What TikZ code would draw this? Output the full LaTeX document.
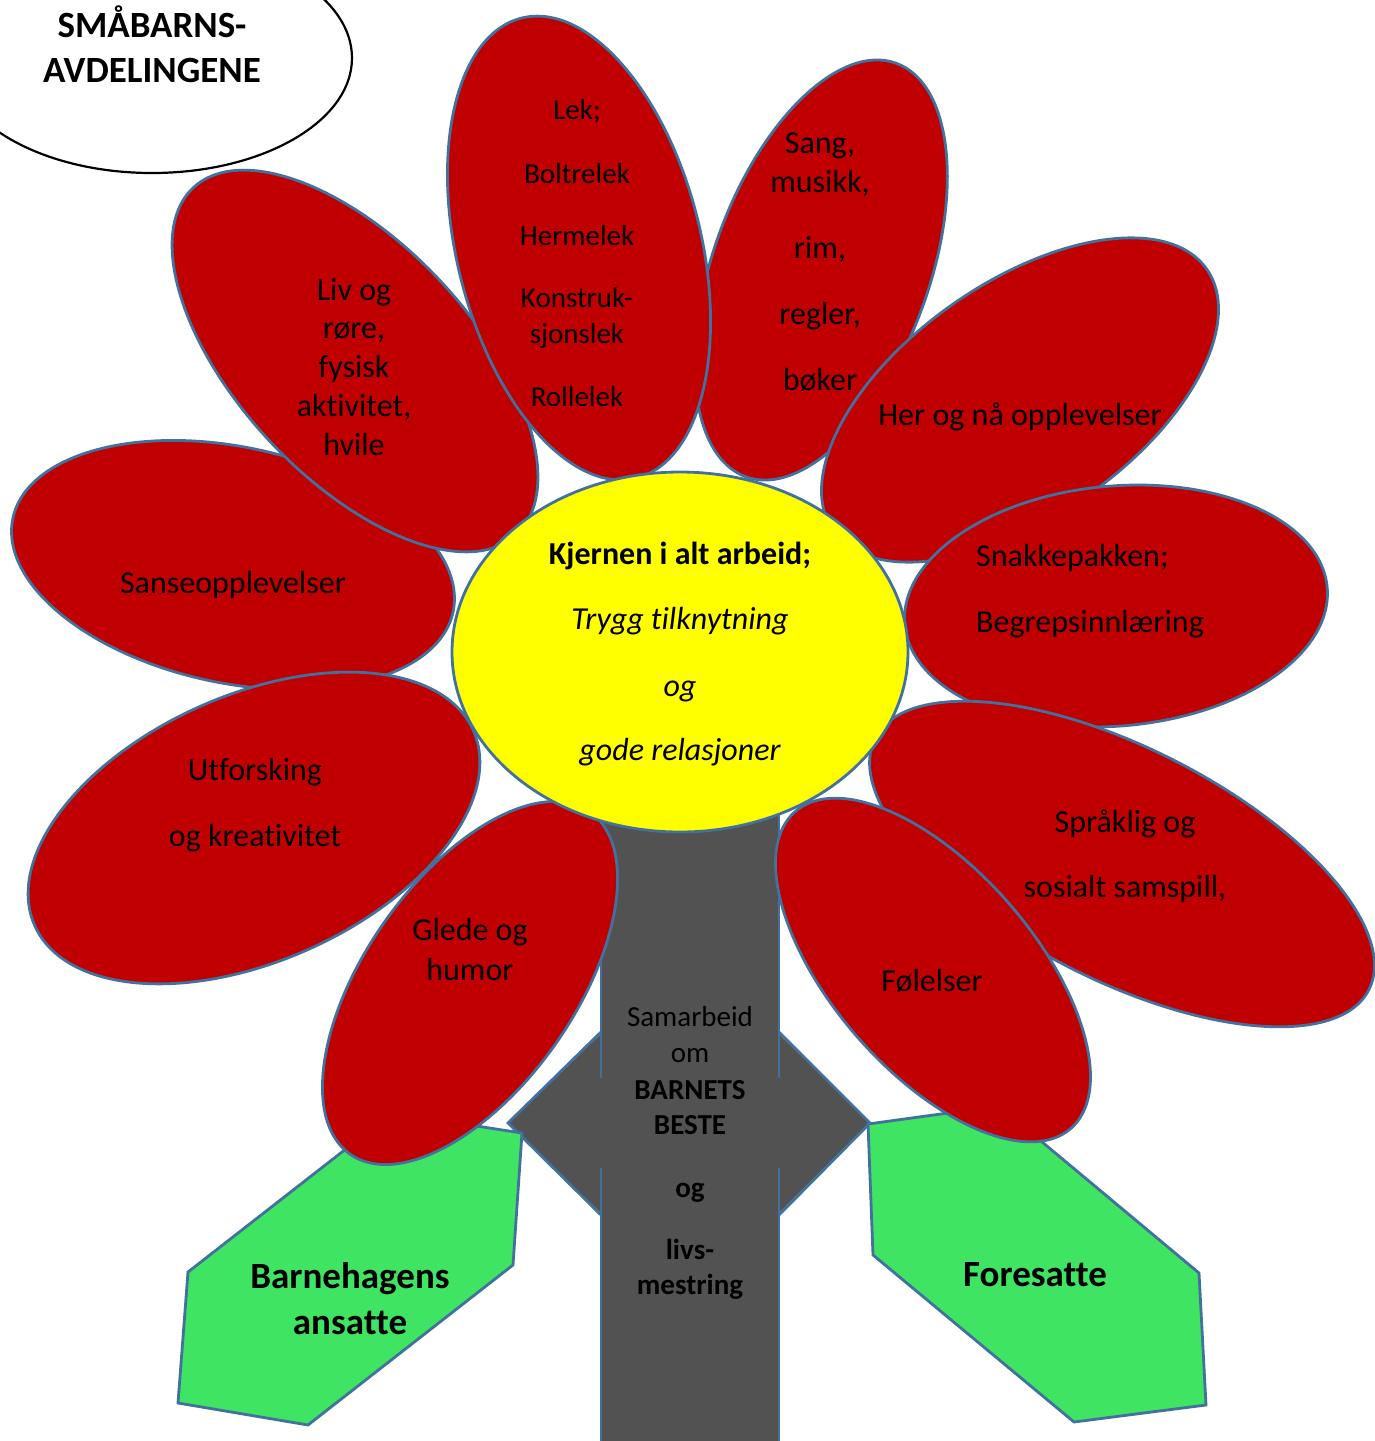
\documentclass[tikz,border=0pt]{standalone}
\usepackage{fontspec}
\setmainfont[Ligatures=NoCommon]{Carlito}
\definecolor{petalred}{RGB}{192,0,0}
\definecolor{outl}{RGB}{65,113,156}
\definecolor{leafgreen}{RGB}{62,228,98}
\definecolor{stemgrey}{RGB}{82,82,82}
\definecolor{coreyellow}{RGB}{255,255,0}
\tikzset{
  petal/.style={fill=petalred, draw=outl, line width=2.8pt},
  leafshape/.style={fill=leafgreen, draw=outl, line width=2.8pt, line join=miter},
  outline/.style={draw=outl, line width=2.8pt},
  ptxt/.style={font=\fontsize{32}{39}\selectfont, anchor=base, inner sep=0pt},
  lektxt/.style={font=\fontsize{29}{35}\selectfont, anchor=base, inner sep=0pt},
  stemtxt/.style={font=\fontsize{29}{35}\selectfont, anchor=base, inner sep=0pt},
  stembold/.style={font=\fontsize{29}{35}\selectfont\bfseries, anchor=base, inner sep=0pt},
  coretitle/.style={font=\fontsize{32}{39}\selectfont\bfseries, anchor=base, inner sep=0pt},
  coreital/.style={font=\fontsize{32}{39}\selectfont\itshape, anchor=base, inner sep=0pt},
  bigbold/.style={font=\fontsize{37}{45}\selectfont\bfseries, anchor=base, inner sep=0pt},
}
\newcommand\txtlines[4]{\foreach \yy/\txt [count=\ii] in {#4}{\node[#3] (#1-\ii) at (#2,\yy) {\txt};}}
\begin{document}
\begin{tikzpicture}[x=1pt,y=-1pt]
\useasboundingbox (0,0) rectangle (1375,1441);
% petals (back to front)
\path[petal, rotate around={-12:(233,565)}] (233,565) ellipse [x radius=225, y radius=118];
\path[petal, rotate around={-20:(821,270)}] (821,270) ellipse [x radius=108, y radius=220];
\path[petal, rotate around={-47:(355,361)}] (355,361) ellipse [x radius=237, y radius=117];
\path[petal, rotate around={14:(579,248)}] (579,248) ellipse [x radius=122, y radius=237];
\path[petal, rotate around={35:(1020,400)}] (1020,400) ellipse [x radius=228, y radius=117];
\path[petal, rotate around={5:(1116,606)}] (1116,606) ellipse [x radius=212, y radius=120];
\path[petal, rotate around={24:(254,828)}] (254,828) ellipse [x radius=240, y radius=133];
\path[petal, rotate around={-27:(1122,864)}] (1122,864) ellipse [x radius=277, y radius=116];
% stem
\fill[stemgrey] (601,790) rectangle (779,1460);
\draw[outline] (601,790) -- (601,1078) (601,1168) -- (601,1460);
\draw[outline] (779,790) -- (779,1078) (779,1168) -- (779,1460);
% arrow heads
\fill[stemgrey] (603,1032) -- (508,1123) -- (603,1215) -- cycle;
\fill[stemgrey] (777,1032) -- (870,1123) -- (777,1215) -- cycle;
\draw[outline] (601,1032) -- (508,1123) -- (601,1215);
\draw[outline] (779,1032) -- (870,1123) -- (779,1215);
\draw[outline] (601,1032) -- (601,1078) (601,1168) -- (601,1215);
\draw[outline] (779,1032) -- (779,1078) (779,1168) -- (779,1215);
% leaves
\path[leafshape] (392,1113) -- (522,1133) -- (513,1265) -- (308,1425) -- (178,1403) -- (188,1272) -- cycle;
\path[leafshape] (868,1124) -- (999,1106) -- (1199,1273) -- (1206,1405) -- (1074,1422) -- (873,1255) -- cycle;
% lower petals
\path[petal, rotate around={55:(470,983)}] (470,983) ellipse [x radius=209, y radius=105];
\path[petal, rotate around={-49:(933,970)}] (933,970) ellipse [x radius=210, y radius=101];
% core
\path[fill=coreyellow, draw=outl, line width=2.8pt] (680,652) ellipse [x radius=228, y radius=180];
% title ellipse
\path[draw=black, line width=2.2pt, fill=white] (152,58) ellipse [x radius=200, y radius=115];
% texts
\txtlines{title}{152}{bigbold}{37/SMÅBARNS-,82/AVDELINGENE}
\txtlines{lek}{577}{lektxt}{119/{Lek;},183/Boltrelek,245/Hermelek,307/Konstruk-,343/sjonslek,406/Rollelek}
\txtlines{sang}{820}{ptxt}{153/{Sang,},192/{musikk,},258/{rim,},324/{regler,},390/bøker}
\txtlines{liv}{354}{ptxt}{300/Liv og,338/{røre,},377/fysisk,416/{aktivitet,},455/hvile}
\node[ptxt] (her) at (1020,425) {Her og nå opplevelser};
\node[ptxt] (sanse) at (233,593) {Sanseopplevelser};
\txtlines{snakke}{976}{ptxt, anchor=base west}{566/{Snakkepakken;},632/Begrepsinnlæring}
\txtlines{utf}{255}{ptxt}{780/Utforsking,846/og kreativitet}
\txtlines{sprak}{1125}{ptxt}{832/Språklig og,897/{sosialt samspill,}}
\txtlines{glede}{470}{ptxt}{940/Glede og,980/humor}
\node[ptxt] (folelser) at (932,991) {Følelser};
\node[coretitle] (core-1) at (680,564) {Kjernen i alt arbeid;};
\node[coreital] (core-2) at (680,629) {Trygg tilknytning};
\node[coreital] (core-3) at (680,696) {og};
\node[coreital] (core-4) at (680,760) {gode relasjoner};
\node[stemtxt] (stem-1) at (690,1026) {Samarbeid};
\node[stemtxt] (stem-2) at (690,1062) {om};
\node[stembold] (stem-3) at (690,1099) {BARNETS};
\node[stembold] (stem-4) at (690,1134) {BESTE};
\node[stembold] (stem-5) at (690,1197) {og};
\node[stembold] (stem-6) at (690,1259) {livs-};
\node[stembold] (stem-7) at (690,1294) {mestring};
\txtlines{ansatte}{350}{bigbold}{1288/Barnehagens,1334/ansatte}
\node[bigbold] (foresatte) at (1035,1286) {Foresatte};
\end{tikzpicture}
\end{document}
